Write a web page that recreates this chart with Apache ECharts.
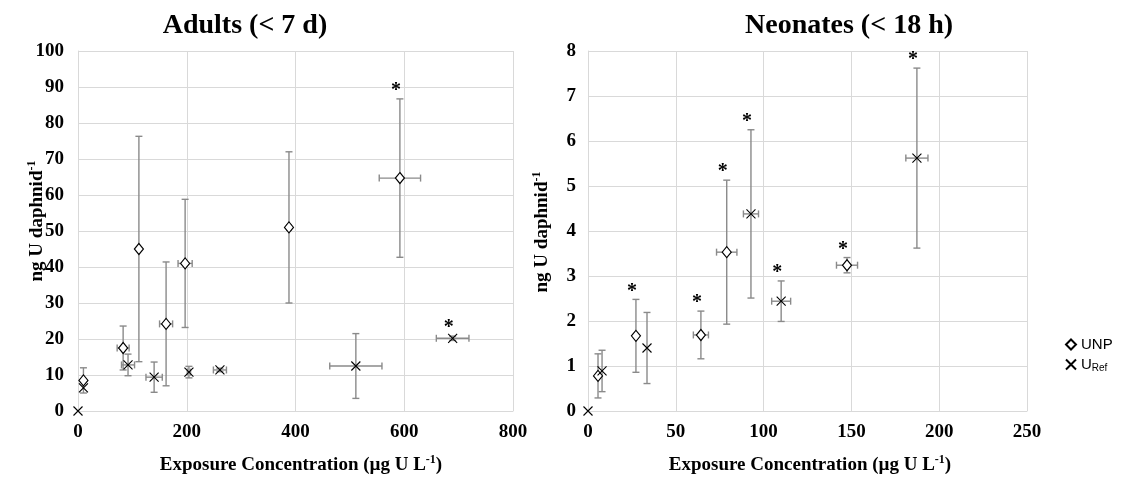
<!DOCTYPE html>
<html>
<head>
<meta charset="utf-8">
<script src="https://cdn.jsdelivr.net/npm/echarts@6/dist/echarts.min.js"></script>
<style>html,body{margin:0;padding:0;background:#fff}#c{width:1127px;height:477px}</style>
</head>
<body>
<div id="c"></div>
<script>
// ---- Adults (< 7 d) ----
const adultsUNP_x    = [10, 83, 112, 162, 197, 388, 592];
const adultsUNP_y    = [8.5, 17.5, 45, 24.2, 41, 51, 64.7];
const adultsUNP_yerr = [3.5, 6.1, 31.3, 17.2, 17.8, 21, 22];
const adultsUNP_xerr = [0, 11, 0, 12, 13, 4, 38];
const adultsUNP_sig  = [0, 0, 0, 0, 0, 0, 1];

const adultsRef_x    = [0, 10, 92, 140, 204, 261, 511, 689];
const adultsRef_y    = [0, 6.4, 12.8, 9.4, 10.8, 11.4, 12.5, 20.2];
const adultsRef_yerr = [0, 0, 3, 4.2, 1.6, 0.5, 9, 0.6];
const adultsRef_xerr = [0, 0, 12, 15, 3, 12, 48, 30];
const adultsRef_sig  = [0, 0, 0, 0, 0, 0, 0, 1];

// ---- Neonates (< 18 h) ----
const neoUNP_x    = [5.7, 27.3, 64.3, 79, 147.5];
const neoUNP_y    = [0.78, 1.67, 1.69, 3.53, 3.24];
const neoUNP_yerr = [0.49, 0.81, 0.53, 1.6, 0.17];
const neoUNP_xerr = [0, 0, 4.3, 5.8, 6];
const neoUNP_sig  = [0, 1, 1, 1, 1];

const neoRef_x    = [0, 8, 33.6, 92.8, 110, 187.3];
const neoRef_y    = [0, 0.89, 1.4, 4.38, 2.44, 5.62];
const neoRef_yerr = [0, 0.46, 0.79, 1.87, 0.45, 2.0];
const neoRef_xerr = [0, 0, 0, 4.3, 5.4, 6.3];
const neoRef_sig  = [0, 0, 0, 1, 1, 1];

// ---- tick settings ----
const adultsXTicks = {min: 0, max: 800, interval: 200};
const adultsYTicks = {min: 0, max: 100, interval: 10};
const neoXTicks = {min: 0, max: 250, interval: 50};
const neoYTicks = {min: 0, max: 8, interval: 1};

const SERIF = "'Liberation Serif', 'Times New Roman', serif";
const SANS = "'Liberation Sans', Arial, sans-serif";
const X_SYMBOL = 'path://M0,0L10,10M10,0L0,10';

function rows(xs, ys, xe, ye) { return xs.map((x, i) => [x, ys[i], xe[i], ye[i]]); }
function sigRows(xs, ys, ye, sig) {
  const out = [];
  xs.forEach((x, i) => { if (sig[i]) out.push([x, ys[i] + ye[i]]); });
  return out;
}

function errRender(params, api) {
  const x = api.value(0), y = api.value(1), xe = api.value(2), ye = api.value(3);
  const c = api.coord([x, y]);
  const style = {stroke: '#8a8a8a', lineWidth: 1.4};
  const cap = 3.5;
  const ch = [];
  if (ye > 0) {
    const t = api.coord([x, y + ye]), b = api.coord([x, y - ye]);
    ch.push({type: 'line', shape: {x1: c[0], y1: t[1], x2: c[0], y2: b[1]}, style});
    ch.push({type: 'line', shape: {x1: c[0] - cap, y1: t[1], x2: c[0] + cap, y2: t[1]}, style});
    ch.push({type: 'line', shape: {x1: c[0] - cap, y1: b[1], x2: c[0] + cap, y2: b[1]}, style});
  }
  if (xe > 0) {
    const l = api.coord([x - xe, y]), r = api.coord([x + xe, y]);
    ch.push({type: 'line', shape: {x1: l[0], y1: c[1], x2: r[0], y2: c[1]}, style});
    ch.push({type: 'line', shape: {x1: l[0], y1: c[1] - cap, x2: l[0], y2: c[1] + cap}, style});
    ch.push({type: 'line', shape: {x1: r[0], y1: c[1] - cap, x2: r[0], y2: c[1] + cap}, style});
  }
  return {type: 'group', children: ch};
}

function starRender(params, api) {
  const p = api.coord([api.value(0), api.value(1)]);
  return {
    type: 'text',
    style: {x: p[0] - 4, y: p[1] + 2, text: '*', fill: '#000', font: 'bold 20px ' + SERIF,
            align: 'center', verticalAlign: 'bottom'}
  };
}

function errSeries(idx, data) {
  return {type: 'custom', xAxisIndex: idx, yAxisIndex: idx, renderItem: errRender,
          encode: {x: 0, y: 1}, data, z: 1, silent: true, clip: false};
}
function starSeries(idx, data) {
  return {type: 'custom', xAxisIndex: idx, yAxisIndex: idx, renderItem: starRender,
          encode: {x: 0, y: 1}, data, z: 5, silent: true, clip: false};
}
function unpSeries(idx, xs, ys) {
  return {name: 'UNP', type: 'scatter', xAxisIndex: idx, yAxisIndex: idx,
          symbol: 'diamond', symbolSize: [9, 11],
          itemStyle: {color: '#fff', borderColor: '#000', borderWidth: 1.2, opacity: 1},
          data: xs.map((x, i) => [x, ys[i]]), z: 3};
}
function refSeries(idx, xs, ys) {
  return {name: 'URef', type: 'scatter', xAxisIndex: idx, yAxisIndex: idx,
          symbol: X_SYMBOL, symbolSize: 9,
          itemStyle: {color: 'rgba(0,0,0,0)', borderColor: '#000', borderWidth: 1.1, opacity: 1},
          data: xs.map((x, i) => [x, ys[i]]), z: 4};
}

const axisLabel = {color: '#000', fontFamily: SERIF, fontWeight: 'bold', fontSize: 19};
const splitLine = {show: true, lineStyle: {color: '#d9d9d9', width: 1}};
const axisLine = {show: true, lineStyle: {color: '#d9d9d9', width: 1}};

function xAxis(idx, t) {
  return Object.assign({type: 'value', gridIndex: idx, axisLine, splitLine,
    axisTick: {show: false}, axisLabel: Object.assign({margin: 12}, axisLabel)}, t);
}
function yAxis(idx, t, margin) {
  return Object.assign({type: 'value', gridIndex: idx, axisLine, splitLine,
    axisTick: {show: false}, axisLabel: Object.assign({margin}, axisLabel)}, t);
}

const nameRich = {
  a: {fontFamily: SERIF, fontWeight: 'bold', fontSize: 19, color: '#000', lineHeight: 22},
  s: {fontFamily: SERIF, fontWeight: 'bold', fontSize: 12, color: '#000', lineHeight: 13, verticalAlign: 'top'}
};

const option = {
  backgroundColor: '#fff',
  animation: false,
  title: [
    {text: 'Adults (< 7 d)', left: 240, top: 7, textAlign: 'center',
     textStyle: {fontFamily: SERIF, fontWeight: 'bold', fontSize: 28, color: '#000'}},
    {text: 'Neonates (< 18 h)', left: 844, top: 7, textAlign: 'center',
     textStyle: {fontFamily: SERIF, fontWeight: 'bold', fontSize: 28, color: '#000'}},
    {text: '{a|Exposure Concentration (µg U L}{s|-1}{a|)}', left: 296, top: 449, textAlign: 'center',
     textStyle: {rich: nameRich}},
    {text: '{a|Exposure Concentration (µg U L}{s|-1}{a|)}', left: 805, top: 449, textAlign: 'center',
     textStyle: {rich: nameRich}}
  ],
  graphic: [
    {type: 'text', x: 37, y: 221, rotation: Math.PI / 2,
     style: {text: '{a|ng U daphnid}{s|-1}', rich: nameRich, align: 'center', verticalAlign: 'middle'}},
    {type: 'text', x: 542, y: 232, rotation: Math.PI / 2,
     style: {text: '{a|ng U daphnid}{s|-1}', rich: nameRich, align: 'center', verticalAlign: 'middle'}}
  ],
  legend: {
    data: ['UNP', 'URef'], orient: 'vertical', left: 1060, top: 332, itemGap: 5,
    itemWidth: 10, itemHeight: 10,
    formatter: n => n === 'URef' ? '{n|U}{s|Ref}' : '{n|UNP}',
    textStyle: {color: '#000', fontFamily: SANS, fontSize: 15,
      rich: {n: {fontFamily: SANS, fontSize: 15, color: '#000', lineHeight: 17},
             s: {fontFamily: SANS, fontSize: 10, color: '#000', lineHeight: 10, verticalAlign: 'bottom'}}}
  },
  grid: [
    {left: 78, top: 51, width: 435, height: 360},
    {left: 588, top: 51, width: 439, height: 360}
  ],
  xAxis: [xAxis(0, adultsXTicks), xAxis(1, neoXTicks)],
  yAxis: [yAxis(0, adultsYTicks, 14), yAxis(1, neoYTicks, 12)],
  series: [
    errSeries(0, rows(adultsUNP_x, adultsUNP_y, adultsUNP_xerr, adultsUNP_yerr)),
    errSeries(0, rows(adultsRef_x, adultsRef_y, adultsRef_xerr, adultsRef_yerr)),
    unpSeries(0, adultsUNP_x, adultsUNP_y),
    refSeries(0, adultsRef_x, adultsRef_y),
    starSeries(0, sigRows(adultsUNP_x, adultsUNP_y, adultsUNP_yerr, adultsUNP_sig)
                  .concat(sigRows(adultsRef_x, adultsRef_y, adultsRef_yerr, adultsRef_sig))),
    errSeries(1, rows(neoUNP_x, neoUNP_y, neoUNP_xerr, neoUNP_yerr)),
    errSeries(1, rows(neoRef_x, neoRef_y, neoRef_xerr, neoRef_yerr)),
    unpSeries(1, neoUNP_x, neoUNP_y),
    refSeries(1, neoRef_x, neoRef_y),
    starSeries(1, sigRows(neoUNP_x, neoUNP_y, neoUNP_yerr, neoUNP_sig)
                  .concat(sigRows(neoRef_x, neoRef_y, neoRef_yerr, neoRef_sig)))
  ]
};

const chart = echarts.init(document.getElementById('c'), null, {renderer: 'canvas'});
chart.setOption(option);
</script>
</body>
</html>
